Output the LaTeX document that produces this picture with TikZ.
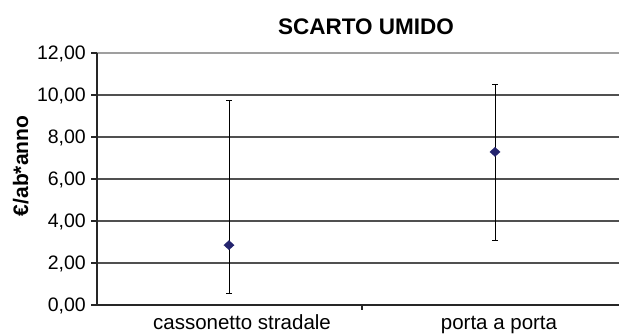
\documentclass[tikz,border=0pt]{standalone}
\usepackage{fontspec}
\setmainfont{Liberation Sans}
\usepackage{tikz}
\usetikzlibrary{shapes.geometric}
\usetikzlibrary{arrows.meta}
\definecolor{markblue}{RGB}{36,36,110}
\definecolor{gridgray}{RGB}{80,80,80}
\tikzset{
    gridline/.style={draw=gridgray, line width=1.2pt},
    axisline/.style={draw=black!85, line width=1.2pt},
    ticklabel/.style={anchor=east, inner sep=0pt, text depth=0pt, font=\fontsize{19.5}{20}\selectfont},
    catlabel/.style={anchor=base, inner sep=0pt, font=\fontsize{20.5}{21}\selectfont},
    errbar/.style={draw=black, line width=0.9pt, {Bar[width=6pt]}-{Bar[width=6pt]}},
    meanmark/.style={shape=diamond, fill=markblue, inner sep=0pt, minimum width=11pt, minimum height=10pt}}

\begin{document}
\begin{tikzpicture}[x=1pt, y=1pt]
            \useasboundingbox (0,0) rectangle (619,336);
            \node[anchor=base, inner sep=0pt, font=\fontsize{22.5}{23}\selectfont\bfseries] (title) at (366,301) {SCARTO UMIDO};
            \node[rotate=90, anchor=base, inner sep=0pt, font=\fontsize{21}{22}\selectfont\bfseries] (ylab) at (28,170) {€/ab*anno};

            \begin{scope}[shift={(97,31)}, y=21pt]
            \foreach \v in {2,4,...,10}
                \draw[gridline] (0,\v) -- (522,\v);
            \draw[gridline, draw=gray!75] (0,12) -- (522,12);
            \draw[axisline] (0,0) -- (522,0);
            \draw[axisline] (0,0) -- (0,12);
            \foreach \v in {0,2,...,12} {
                \draw[axisline] (-6,\v) -- (0,\v);
                \node[ticklabel] (t\v) at (-11,\v) {\v,00};
            }
            \coordinate (div) at (265,0);
            \draw[axisline] (div) -- ++(0,-0.24);

            \coordinate (cs-lo) at (132,0.55);
            \coordinate (cs-hi) at (132,9.75);
            \coordinate (pp-lo) at (398,3.05);
            \coordinate (pp-hi) at (398,10.5);
            \draw[errbar] (cs-lo) -- (cs-hi);
            \draw[errbar] (pp-lo) -- (pp-hi);
            \node[meanmark] (cs) at (132,2.85) {};
            \node[meanmark] (pp) at (398,7.29) {};
            \end{scope}

            \node[catlabel] (cat1) at (242,6) {cassonetto stradale};
            \node[catlabel] (cat2) at (499,6) {porta a porta};

        \end{tikzpicture}
\end{document}
